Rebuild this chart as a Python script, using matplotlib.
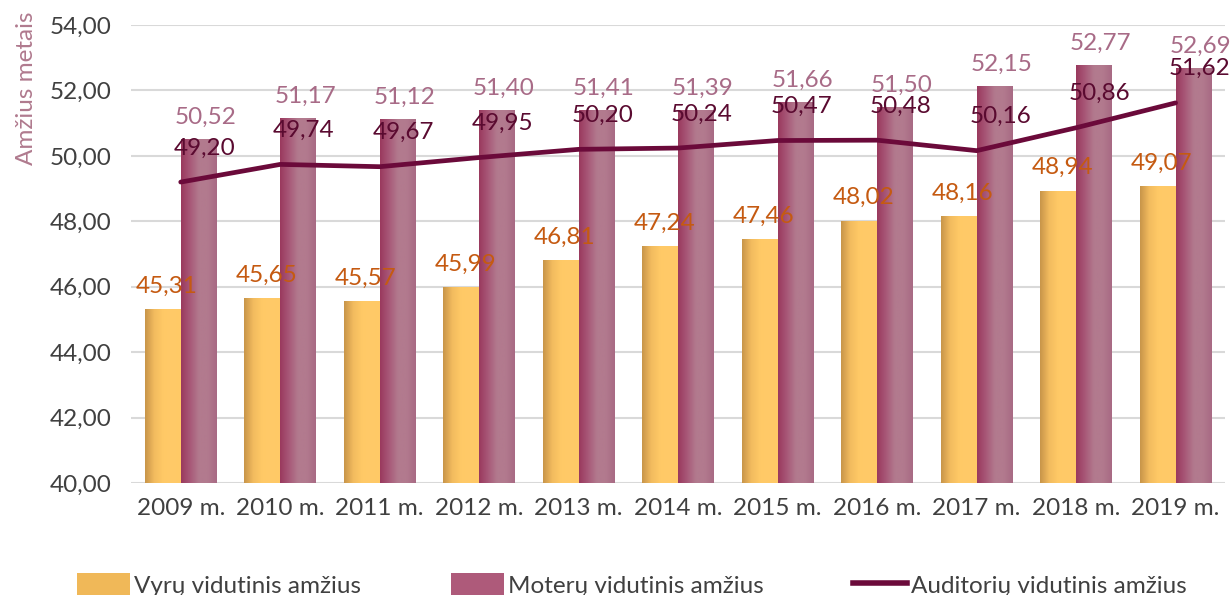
import matplotlib
matplotlib.use("Agg")
import matplotlib.pyplot as plt
import numpy as np
from matplotlib.patches import Patch
from matplotlib.lines import Line2D
from matplotlib.colors import LinearSegmentedColormap

plt.rcParams['font.family'] = ['Lato', 'DejaVu Sans']

years = ["2009 m.", "2010 m.", "2011 m.", "2012 m.", "2013 m.", "2014 m.",
         "2015 m.", "2016 m.", "2017 m.", "2018 m.", "2019 m."]
men = [45.31, 45.65, 45.57, 45.99, 46.81, 47.24, 47.46, 48.02, 48.16, 48.94, 49.07]
women = [50.52, 51.17, 51.12, 51.40, 51.41, 51.39, 51.66, 51.50, 52.15, 52.77, 52.69]
audit = [49.20, 49.74, 49.67, 49.95, 50.20, 50.24, 50.47, 50.48, 50.16, 50.86, 51.62]
yticks = [40, 42, 44, 46, 48, 50, 52, 54]

def fmt(v):
    return f"{v:.2f}".replace(".", ",")

fig = plt.figure(figsize=(12.31, 5.95), dpi=100)
ax = fig.add_axes([0.1064, 0.188, 0.889, 0.770])

x = np.arange(len(years))
w = 0.36
bars_m = ax.bar(x - w/2, [v - 40 for v in men], w, bottom=40, color="#FFC966", zorder=2)
bars_w = ax.bar(x + w/2, [v - 40 for v in women], w, bottom=40, color="#B07A8E", zorder=2)

cm_y = LinearSegmentedColormap.from_list("y", ["#C8954A", "#F2BB5E", "#FFC966", "#FFCA68", "#FFC966"])
cm_w = LinearSegmentedColormap.from_list("w", ["#9A3A5E", "#A85878", "#B27A8E", "#B27A8E", "#A86A84"])
grad = np.linspace(0, 1, 64).reshape(1, -1)
for bars, cm in ((bars_m, cm_y), (bars_w, cm_w)):
    for b in bars:
        x0, y0 = b.get_x(), b.get_y()
        im = ax.imshow(grad, cmap=cm, aspect="auto", extent=(x0, x0 + b.get_width(), y0, y0 + b.get_height()),
                       zorder=2.1, interpolation="bilinear")
        im.set_clip_path(b)
ax.set_aspect("auto")

ax.plot(x, audit, color="#6B0A3A", lw=3.4, zorder=3, solid_capstyle="round")

fs = 17.5
for i in range(len(x)):
    ax.annotate(fmt(men[i]), (x[i] - w/2, men[i]), xytext=(3, 9), textcoords="offset points",
                ha="center", va="bottom", color="#C55A11", fontsize=fs, zorder=4)
    ax.annotate(fmt(women[i]), (x[i] + w/2, women[i]), xytext=(5, 8), textcoords="offset points",
                ha="center", va="bottom", color="#A86B87", fontsize=fs, zorder=4)
    ax.annotate(fmt(audit[i]), (x[i], audit[i]), xytext=(17, 17), textcoords="offset points",
                ha="center", va="bottom", color="#5A0A30", fontsize=fs, zorder=4)

ax.set_ylim(40, 54)
ax.set_xlim(-0.5, len(years) - 0.5)
ax.set_yticks(yticks)
ax.set_yticklabels([fmt(v) for v in yticks])
ax.set_xticks(x)
ax.set_xticklabels(years)
ax.tick_params(axis="both", length=0, labelsize=fs, labelcolor="#404040")
ax.tick_params(axis="y", pad=14)
ax.tick_params(axis="x", pad=11)
ax.grid(axis="y", color="#D9D9D9", lw=1.5, zorder=0)
ax.set_axisbelow(True)
for s in ax.spines.values():
    s.set_visible(False)
ax.set_ylabel("Amžius metais", color="#B07A8E", fontsize=17.5)
ax.yaxis.set_label_coords(-0.086, 0.862)

handles = [Patch(facecolor="#F0B858", label="Vyrų vidutinis amžius"),
           Patch(facecolor="#AE5A7A", label="Moterų vidutinis amžius"),
           Line2D([0], [0], color="#6B0A3A", lw=4, label="Auditorių vidutinis amžius")]
fig.legend(handles=handles, loc="lower center", bbox_to_anchor=(0.513, -0.04), ncol=3, frameon=False,
           fontsize=17.5, handlelength=2.2, handleheight=1.1, columnspacing=3.7, handletextpad=0.15,
           labelcolor="#404040")

fig.savefig("out.png", dpi=100)
